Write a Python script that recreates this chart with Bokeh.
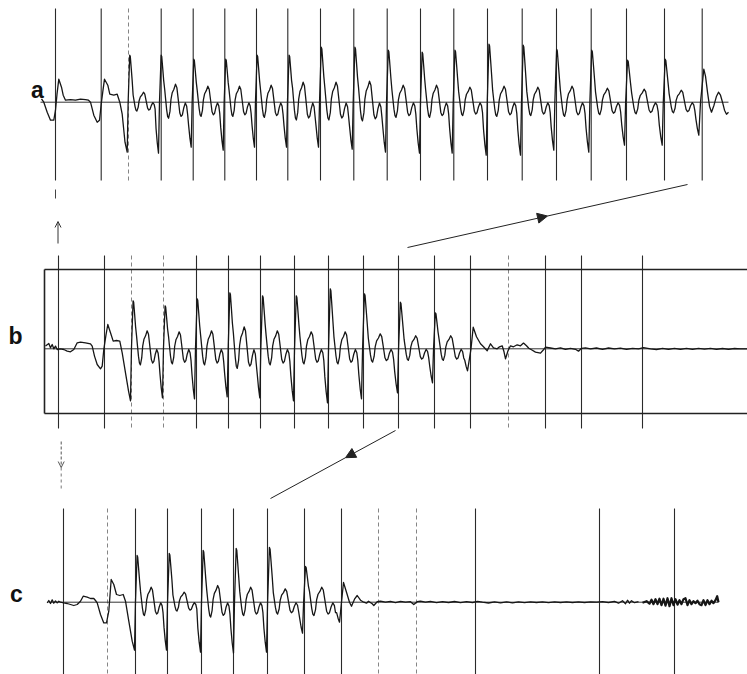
import numpy as np
from bokeh.plotting import figure
from bokeh.models import Range1d, Arrow, NormalHead, OpenHead
from bokeh.core.properties import value
from bokeh.embed import file_html
from bokeh.resources import INLINE

# ---------------- data ----------------
# time axis in chart-paper units, amplitudes in units above (+) / below (-) the baseline
PANEL_LABELS = ["a", "b", "c"]

# time-marker lines
A_MARKERS = [55, 100.7, 160.7, 192.7, 224.3, 256, 287.3, 320, 353.3, 386.7, 420, 453.3,
             487, 521.7, 556, 590.7, 626, 664, 701.7]
A_MARKERS_FAINT = [128]
B_MARKERS = [58, 104, 196, 228, 260, 294, 328, 363, 398, 434, 470, 545, 581, 642]
B_MARKERS_FAINT = [131, 163, 508]
C_MARKERS = [63, 135, 167, 201, 233, 267, 304, 341, 475, 599, 674]
C_MARKERS_FAINT = [107, 378, 416]

# one cycle of the recorded wave: phase (fraction of cycle), which amplitude it scales, weight
# T = this trough, Z = zero, P = main peak, S = secondary peak, N = next trough
CYCLE_PHASE = [0.0, 0.030, 0.081, 0.099, 0.129, 0.159, 0.189, 0.219, 0.249, 0.279, 0.309,
               0.351, 0.381, 0.420, 0.471, 0.520, 0.562, 0.592, 0.622, 0.652, 0.691,
               0.730, 0.772, 0.820, 0.862, 0.892, 0.922, 0.961]
CYCLE_KIND = ["T", "Z", "P", "P", "P", "P", "S", "S", "S", "S", "S",
              "S", "S", "S", "S", "S", "S", "S", "S", "S", "S",
              "S", "S", "S", "S", "S", "N", "N"]
CYCLE_WEIGHT = [-1.0, 0.0, 1.0, 0.97, 0.72, 0.46, 0.72, 0.15, -0.41, -0.79, -0.89,
                -0.51, 0.15, 0.53, 0.72, 1.0, 0.81, 0.34, -0.13, -0.6, -0.79,
                -0.7, -0.32, -0.04, -0.23, -0.7, -0.52, -0.80]

# trace a
A_PRE_T = [41, 43.3, 46.7, 50, 53.3, 55, 56.5, 58.3, 61, 62.7, 65, 70, 75, 80, 85, 88, 90,
           93.3, 96.7, 99, 100.7, 102.5, 104, 107.3, 109.3, 113.3, 116.7, 119.3, 121.7, 124.5]
A_PRE_V = [3.3, 0, -10, -18, -18, -8, 8, 23, 15, 7, 2, 2.5, 2, 3, 2.5, 2, 0,
           -13, -20, -18, -2, 12, 23, 17, 8, 7, 8, 0, -12, -40]
A_TROUGH_T = [126.7, 158, 190.7, 222.7, 254, 286, 318, 351.7, 385, 419, 451.7, 485.7,
              520, 553.3, 588.3, 624, 661.7, 698.3]
A_TROUGH = [50, 51, 45, 48, 45, 45, 45, 47, 50, 51, 51, 53, 53, 48, 50, 43, 43, 33]
A_PEAK = [47, 47, 43, 43, 47, 47, 55, 55, 52, 50, 52, 58, 57, 53, 52, 42, 43]
A_SEC = [10, 18, 16, 16, 17, 20, 20, 21, 17, 17, 15, 16, 15, 16, 14, 13, 12]
A_TAIL_T = [700, 703.3, 705, 707, 709, 711, 713.5, 716, 718, 720, 722, 724, 726, 728]
A_TAIL_V = [0, 33, 26, 10, -4, -10, -3, 6, 10, 7, 0, -8, -12, -10]

# trace b
B_PRE_T = [45, 48.3, 50, 51.7, 53.3, 55, 56.7, 60, 63.3, 66.7, 70, 73.3, 76.7, 80, 85, 90,
           91.7, 94, 96.7, 100, 101.7, 103.3, 105.5, 107.3, 110, 112.7, 116, 119.3, 121.7,
           125, 128]
B_PRE_V = [2.7, 5.3, 1, 4.3, 0, 2.7, -0.7, 0, -0.7, -2.3, -3, -0.7, 6, 6.7, 6, 5,
           2.7, -7.3, -15.7, -20, -17.3, -0.7, 14, 24.3, 16, 7.7, 8.3, 7.7, -4,
           -24, -42]
B_TROUGH_T = [130, 162, 194, 226.7, 259.3, 293, 327, 361, 397, 432, 467]
B_TROUGH = [52, 49, 50, 48, 49, 52, 54, 50, 44, 34, 22]
B_PEAK = [48, 43, 50, 56, 53, 53, 60, 55, 46.6, 36]
B_SEC = [18, 17, 18, 22, 18, 17, 17, 15, 13, 13]
B_TAIL_T = [470.5, 472.7, 476, 480, 483, 486.7, 490, 493, 496.7, 499, 501.7, 503.5, 505,
            507.5, 510, 513, 516.7, 520, 523, 526, 528.3, 531, 535, 540, 543, 545, 550,
            555, 560, 565, 570, 575, 578, 581, 585, 590, 596, 602, 608, 614, 620, 626,
            632, 638, 643, 650, 656, 662, 668, 674, 680, 686, 692, 698, 704, 710, 716,
            722, 728, 734, 740, 747]
B_TAIL_V = [0, 21.6, 12, 5, 2, -2, 5, 1, 0, 2, 3, -3, -10,
            -2, 3, 2, 4, 3, 5.7, 3, 0.5, -1, -3.3, -4.3, -1, 1.7, 0.8,
            0, 1, -0.5, 0.5, -0.5, -2.4, 0.5, 1, 0, 0.8, -0.5, 0.8, 0, 0.7, -0.5,
            0.5, 0, 1.2, 0, -0.8, 0.5, -0.5, 0.4, -0.6, 0.4, -0.6, 0.4, -0.4, 0.5, -0.5,
            0.3, -0.5, 0.3, 0, 0]

# trace c
C_PRE_T = [46.7, 48.3, 50, 51.7, 53.3, 55, 56.7, 58.3, 60, 63.3, 66.7, 70, 73.3, 76.7, 80,
           82.7, 86.7, 90, 93.3, 95, 96.7, 100, 103.3, 106, 108.3, 110.7, 113.3, 116,
           119.3, 122.7, 125, 128.3, 131.7]
C_PRE_V = [-0.7, 1.7, -1.3, 2.3, -1, 1.3, -0.7, 1, 0, -0.7, -1.3, -2.3, -3.3, -2.3, 1,
           6, 5, 3.7, 3.7, 1.7, -0.7, -12.3, -20.7, -20.7, -9, 22.7, 17.7, 7.7,
           6.7, 7.7, 1, -19, -39]
C_TROUGH_T = [134, 166, 200, 233, 266, 302, 339]
C_TROUGH = [48, 48, 50, 51, 50, 31, 20]
C_PEAK = [46.7, 48.7, 51.7, 53.7, 54.7, 35.7]
C_SEC = [15, 10, 16.7, 15, 13.3, 15]
C_TAIL_T = [341, 343, 346, 349, 351, 354, 356.7, 360, 363.3, 366, 368, 371.7, 373.3, 376.7,
            380, 385, 390, 395, 400, 405, 410, 413.3, 416.7, 420, 425, 430, 436, 442, 448,
            454, 460, 466, 472, 477, 482, 488, 494, 500, 506, 512, 518, 524, 530, 536,
            542, 548, 554, 560, 566, 572, 578, 584, 590, 596, 602, 608, 614, 618, 622,
            625, 627, 629, 631, 634, 638, 642, 646, 649, 651, 653, 655, 657, 659, 661,
            663, 665, 667, 669, 671, 673, 675, 677, 679, 681, 683, 685, 687, 689, 691,
            693, 695, 697, 699, 701, 703, 705, 707, 709, 711, 713, 715, 716.7, 718]
C_TAIL_V = [0, 19.7, 10, 0, -4, 3, 6.7, 2, 0, -1, 1, -1.6, -3.3, 0.5,
            1, 0, 0.8, -0.5, 0.8, 0, 0.5, -2.4, 0.5, 1, 0, 0.8, -0.5, 0.6, -0.3,
            0.7, -0.5, 0.5, -0.3, 0.8, 0, -0.8, 0.3, -0.6, 0.4, -0.7, 0.3, -0.5, 0.4, -0.3,
            0.3, -0.4, 0.3, -0.3, 0.3, -0.3, 0.3, -0.3, 0.3, 0, 0.5, -0.3, 0.8, -1, 1.5,
            -1.5, 2, -1, 1.5, -0.5, 0.5, -0.5, 1, -1.5, 2.5, -2, 3, -2, 3.5, -3,
            3.5, -3.5, 4, -4, 4, -3, 3, -2.5, 2, -2, 3, 4, -3, 2, -2,
            1, -1, 1.5, -2, -3, 2, -3, 2, -2, 1.5, -1, 2, 6, 0]
C_BURST_FROM = 640   # where the recording turns into a dense dark burst

# ---------------- layout (page pixels) ----------------
W, H = 747, 674
BASE_Y = {"a": 101.7, "b": 348.3, "c": 601.7}
BASE_X = {"a": (40, 728), "b": (44, 747), "c": (48, 718)}
MARK_Y = {"a": (8, 180), "b": (255, 428), "c": (508, 674)}
LABEL_XY = {"a": (37, 89), "b": (15, 335), "c": (16, 593)}
BOX_B = (44, 269, 747, 413)
INK = "#161616"


def build_trace(pre_t, pre_v, tr_t, tr_d, pk, sc, tail_t, tail_v):
    t, v = list(pre_t), list(pre_v)
    for i in range(len(pk)):
        t0, t1 = tr_t[i], tr_t[i + 1]
        amp = {"T": tr_d[i], "Z": 0.0, "P": pk[i], "S": sc[i], "N": tr_d[i + 1]}
        for ph, k, w in zip(CYCLE_PHASE, CYCLE_KIND, CYCLE_WEIGHT):
            t.append(t0 + ph * (t1 - t0))
            v.append(w * amp[k])
    t.append(tr_t[-1])
    v.append(-tr_d[-1])
    t += list(tail_t)
    v += list(tail_v)
    return np.array(t), np.array(v)


p = figure(width=W, height=H, x_range=Range1d(0, W), y_range=Range1d(H, 0),
           x_axis_location=None, y_axis_location=None, output_backend="svg",
           toolbar_location=None, min_border=0)
p.grid.visible = False
p.outline_line_color = None
p.background_fill_color = "white"

panels = {
    "a": (A_MARKERS, A_MARKERS_FAINT,
          build_trace(A_PRE_T, A_PRE_V, A_TROUGH_T, A_TROUGH, A_PEAK, A_SEC, A_TAIL_T, A_TAIL_V)),
    "b": (B_MARKERS, B_MARKERS_FAINT,
          build_trace(B_PRE_T, B_PRE_V, B_TROUGH_T, B_TROUGH, B_PEAK, B_SEC, B_TAIL_T, B_TAIL_V)),
    "c": (C_MARKERS, C_MARKERS_FAINT,
          build_trace(C_PRE_T, C_PRE_V, C_TROUGH_T, C_TROUGH, C_PEAK, C_SEC, C_TAIL_T, C_TAIL_V)),
}

for name, (marks, faint, (tt, vv)) in panels.items():
    top, bot = MARK_Y[name]
    p.segment(x0=marks, y0=[top] * len(marks), x1=marks, y1=[bot] * len(marks),
              line_color="#2a2a2a", line_width=1.1)
    p.segment(x0=faint, y0=[top] * len(faint), x1=faint, y1=[bot] * len(faint),
              line_color="#777777", line_width=0.9, line_dash="4 3")
    bx0, bx1 = BASE_X[name]
    p.segment(x0=[bx0], y0=[BASE_Y[name]], x1=[bx1], y1=[BASE_Y[name]],
              line_color="#333333", line_width=1.0)
    yy = BASE_Y[name] - vv
    if name == "c":
        m = tt >= C_BURST_FROM
        p.line(tt[~m], yy[~m], line_color=INK, line_width=1.3, line_join="round")
        p.line(tt[m], yy[m], line_color=INK, line_width=2.2, line_join="round")
    else:
        p.line(tt, yy, line_color=INK, line_width=1.3, line_join="round")
    lx, ly = LABEL_XY[name]
    p.text(x=[lx], y=[ly], text=[name], text_font=value("Liberation Sans"),
           text_font_style="bold", text_font_size="23px", text_align="center",
           text_baseline="middle", text_color="#111111")

# box around record b
bx0, by0, bx1, by1 = BOX_B
p.segment(x0=[bx0, bx0, bx0], y0=[by0, by1, by0], x1=[bx1, bx1, bx0], y1=[by0, by1, by1],
          line_color="#222222", line_width=1.6)

# small vertical arrows at the start
p.segment(x0=[55], y0=[189], x1=[55], y1=[198], line_color="#444444", line_width=1)
p.add_layout(Arrow(end=OpenHead(size=6, line_color="#333333", line_width=1),
                   x_start=57.5, y_start=243, x_end=57.5, y_end=221,
                   line_color="#333333", line_width=1))
p.add_layout(Arrow(end=OpenHead(size=6, line_color="#555555", line_width=1),
                   x_start=60.7, y_start=441, x_end=60.7, y_end=467,
                   line_color="#555555", line_width=1, line_dash="3 2"))
p.segment(x0=[60.7], y0=[467], x1=[60.7], y1=[490], line_color="#777777",
          line_width=1, line_dash="3 3")


def long_arrow(x0, y0, x1, y1, frac):
    xm, ym = x0 + frac * (x1 - x0), y0 + frac * (y1 - y0)
    p.add_layout(Arrow(end=NormalHead(size=10, fill_color="#222222", line_color="#222222"),
                       x_start=x0, y_start=y0, x_end=xm, y_end=ym,
                       line_color="#222222", line_width=1))
    p.segment(x0=[xm], y0=[ym], x1=[x1], y1=[y1], line_color="#222222", line_width=1)


long_arrow(407, 247, 687, 184, 0.5)
long_arrow(395, 430, 270, 498, 0.4)

open("out.html", "w").write(file_html(p, INLINE))
